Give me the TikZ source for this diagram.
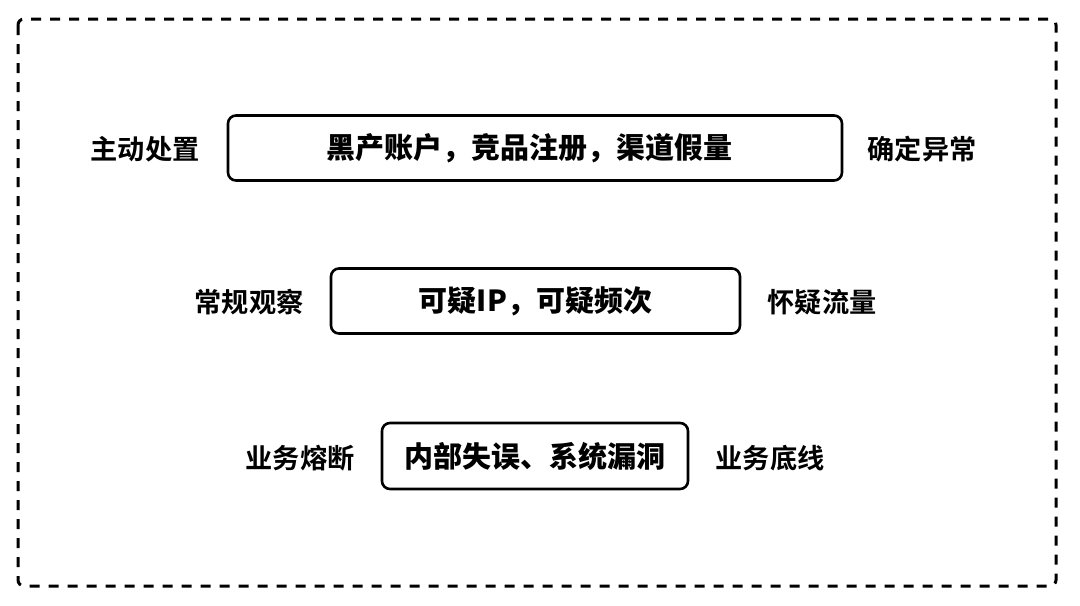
\documentclass[tikz,border=0pt]{standalone}
\usepackage{fontspec}
\newfontfamily\cjk{Noto Sans CJK SC}[BoldFont={Noto Sans CJK SC Bold}]
\newfontfamily\cjkheavy{Noto Sans CJK SC Black}
\begin{document}
\begin{tikzpicture}[x=0.5pt,y=-0.5pt,
  tierbox/.style={draw=black,line width=1.3pt,rounded corners=4pt,inner sep=0pt},
  tiertext/.style={font=\cjkheavy\fontsize{14.5pt}{16pt}\selectfont},
  sidelabel/.style={font=\cjk\bfseries\fontsize{13.6pt}{16pt}\selectfont,inner sep=0pt}]
\useasboundingbox (0,0) rectangle (1080,605);
% dashed frame around all tiers
\draw[line width=1.5pt,dash pattern=on 5pt off 4.5pt,rounded corners=3pt] (18,19) rectangle (1056,586);

% top tier
\node[tierbox,minimum width=307pt,minimum height=32.5pt] (t1) at (535,148) {};
\node[tiertext] (t1txt) at (529,148) {黑产账户，竞品注册，渠道假量};
\node[sidelabel] (l1) at (145,149) {主动处置};
\node[sidelabel] (r1) at (922,149) {确定异常};

% middle tier
\node[tierbox,minimum width=204.5pt,minimum height=32.5pt] (t2) at (535.5,301) {};
\node[tiertext] (t2txt) at (t2.center) {可疑IP，可疑频次};
\node[sidelabel] (l2) at (249,302) {常规观察};
\node[sidelabel] (r2) at (822,302) {怀疑流量};

% bottom tier
\node[tierbox,minimum width=153pt,minimum height=33pt] (t3) at (535,456) {};
\node[tiertext] (t3txt) at (t3.center) {内部失误、系统漏洞};
\node[sidelabel] (l3) at (300,458) {业务熔断};
\node[sidelabel] (r3) at (770,458) {业务底线};
\end{tikzpicture}
\end{document}
